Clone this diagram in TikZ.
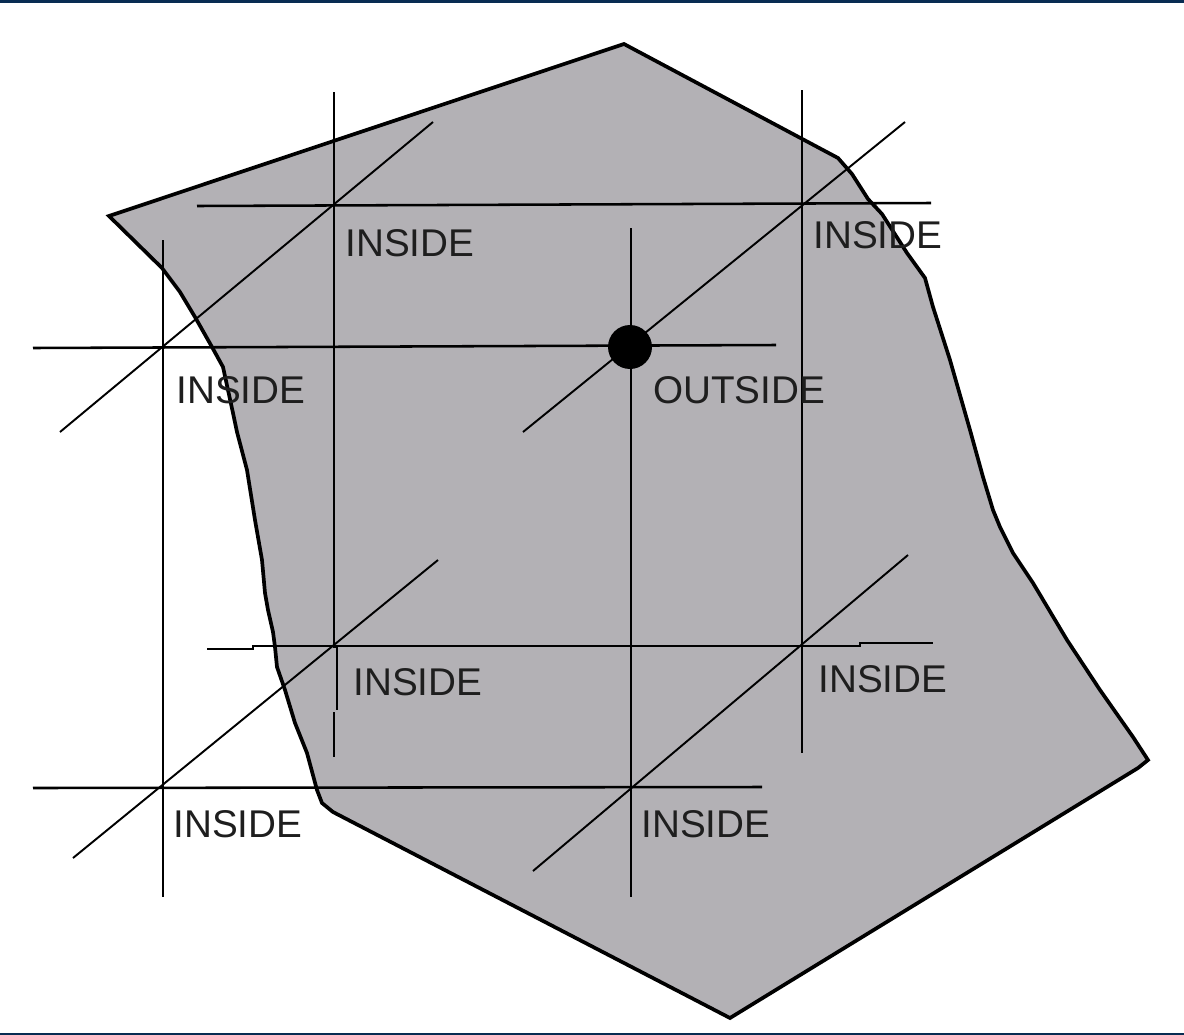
\documentclass[tikz,border=0pt]{standalone}
\usepackage{fontspec}
\setmainfont{Liberation Sans}
\definecolor{regiongray}{RGB}{179,177,181}
\definecolor{framblue}{RGB}{8,44,82}
\definecolor{labelgray}{RGB}{30,30,30}
\begin{document}
\begin{tikzpicture}[x=0.02cm,y=-0.02cm,
  region/.style={fill=regiongray,draw=black,line width=2.1pt,line join=miter},
  gridline/.style={draw=black,line width=1.45pt},
  diagline/.style={draw=black,line width=1.1pt},
  lbl/.style={anchor=base west,inner sep=0pt,text=labelgray,font=\fontsize{22}{24}\selectfont}]
\useasboundingbox (0,0) rectangle (1184,1035);
% frame bars
\fill[framblue] (0,0) rectangle (1184,2.5);
\fill[framblue] (0,1032.5) rectangle (1184,1035);
% region
\draw[region] (109,216) -- (624,44) -- (838,158) -- (852,174) -- (868,199) -- (882,214)
  -- (907,253) -- (925,278) -- (933,307) -- (950,360) -- (970,430) -- (983,477)
  -- (993,510) -- (1000,527) -- (1013,553) -- (1033,583) -- (1067,640) -- (1100,690)
  -- (1133,737) -- (1148,760) -- (1138,768) -- (730,1018) -- (333,812) -- (322,803)
  -- (317,790) -- (307,753) -- (295,723) -- (285,690) -- (277,667) -- (275,647)
  -- (273,632) -- (268,610) -- (265,593) -- (262,560) -- (255,520) -- (247,470)
  -- (237,432) -- (233,413) -- (223,367) -- (212,347) -- (195,317) -- (180,292)
  -- (162,268) -- cycle;
% named end points
\coordinate (h1a) at (197,206); \coordinate (h1b) at (931,203);
\coordinate (h2a) at (33,348);  \coordinate (h2b) at (776,345);
\coordinate (h4a) at (33,788);  \coordinate (h4b) at (762,787);
\coordinate (v1a) at (163,240); \coordinate (v1b) at (163,897);
\coordinate (v3a) at (631,228); \coordinate (v3b) at (631,897);
\coordinate (v4a) at (802,90);  \coordinate (v4b) at (802,753);
\coordinate (v2a) at (334,92);  \coordinate (v2c) at (334,712); \coordinate (v2d) at (334,757);
\coordinate (d1a) at (60,432);  \coordinate (d1b) at (433,122);
\coordinate (d2a) at (523,432); \coordinate (d2b) at (905,122);
\coordinate (d3a) at (73,858);  \coordinate (d3b) at (438,560);
\coordinate (d4a) at (533,871); \coordinate (d4b) at (908,555);
% horizontal lines
\draw[gridline] (h1a) -- (h1b);
\draw[gridline] (h2a) -- (h2b);
\draw[gridline] (207,649) -- (253,649) -- (253,646) -- (860,646) -- (860,643) -- (933,643);
\draw[gridline] (h4a) -- (h4b);
% vertical lines
\draw[gridline] (v1a) -- (v1b);
\draw[gridline] (v2a) -- (334,647) -- (337,647) -- (337,710);
\draw[gridline] (v2c) -- (v2d);
\draw[gridline] (v3a) -- (v3b);
\draw[gridline] (v4a) -- (v4b);
% diagonal lines
\draw[diagline] (d1a) -- (d1b);
\draw[diagline] (d2a) -- (d2b);
\draw[diagline] (d3a) -- (d3b);
\draw[diagline] (d4a) -- (d4b);
% point
\node[circle,fill=black,inner sep=0pt,minimum size=0.88cm] (pt) at (630,347) {};
% labels
\node[lbl] (l1) at (345,256) {INSIDE};
\node[lbl] (l2) at (813,248) {INSIDE};
\node[lbl] (l3) at (176,403) {INSIDE};
\node[lbl] (l4) at (653,403) {OUTSIDE};
\node[lbl] (l5) at (353,695) {INSIDE};
\node[lbl] (l6) at (818,692) {INSIDE};
\node[lbl] (l7) at (173,837) {INSIDE};
\node[lbl] (l8) at (641,837) {INSIDE};
\end{tikzpicture}
\end{document}
